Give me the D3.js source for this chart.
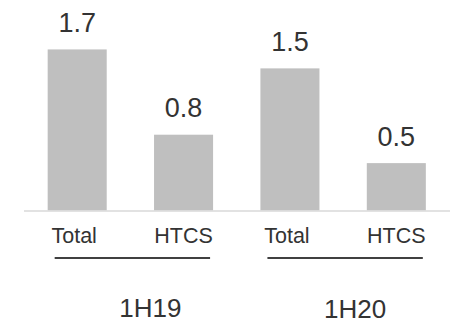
<!DOCTYPE html>
<html><head><meta charset="utf-8">
<script src="https://cdn.jsdelivr.net/npm/d3@7"></script>
<style>html,body{margin:0;padding:0;background:#fff;}svg{display:block;}</style>
</head><body>
<svg id="c" width="460" height="323"></svg>
<script>
const categories = ["Total", "HTCS", "Total", "HTCS"];
const groups = ["1H19", "1H20"];
const values = [1.7, 0.8, 1.5, 0.5];
const valueLabels = ["1.7", "0.8", "1.5", "0.5"];

const svg = d3.select("#c");
const font = "Liberation Sans, Arial, sans-serif";
const ids = d3.range(values.length);
const x = d3.scaleBand().domain(ids).range([24, 449.5]).paddingInner(0.445).paddingOuter(0.2225);
const y = d3.scaleLinear().domain([0, 2]).range([210.5, 21]);

svg.selectAll("rect.bar").data(values).join("rect")
  .attr("x", (d, i) => x(i)).attr("width", x.bandwidth())
  .attr("y", d => y(d)).attr("height", d => y(0) - y(d))
  .attr("fill", "#bfbfbf");

svg.append("line").attr("x1", 24).attr("x2", 450).attr("y1", y(0)+0.5).attr("y2", y(0)+0.5)
  .attr("stroke", "#d9d9d9").attr("stroke-width", 1.5);

svg.selectAll("text.val").data(values).join("text")
  .attr("x", (d, i) => x(i) + x.bandwidth() / 2)
  .attr("y", d => y(d) - 17.5)
  .attr("text-anchor", "middle").attr("font-family", font).attr("font-size", 27)
  .attr("fill", "#333").text((d, i) => valueLabels[i]);

svg.selectAll("text.cat").data(categories).join("text")
  .attr("x", (d, i) => x(i) + x.bandwidth() / 2 - (d === "Total" ? 3 : 0))
  .attr("y", 243)
  .attr("text-anchor", "middle").attr("font-family", font).attr("font-size", 21.5)
  .attr("fill", "#333").text(d => d);

// group underline spanning each pair of categories
groups.forEach((g, gi) => {
  const a = x(gi * 2), b = x(gi * 2 + 1) + x.bandwidth();
  svg.append("line").attr("x1", a + 7).attr("x2", b - 3).attr("y1", 258).attr("y2", 258)
    .attr("stroke", "#404040").attr("stroke-width", 2);
  svg.append("text")
    .attr("x", (a + b) / 2 + (gi === 0 ? 20 : 12))
    .attr("y", gi === 0 ? 317 : 318)
    .attr("text-anchor", "middle").attr("font-family", font).attr("font-size", 26)
    .attr("fill", "#333").text(g);
});
</script>
</body></html>
